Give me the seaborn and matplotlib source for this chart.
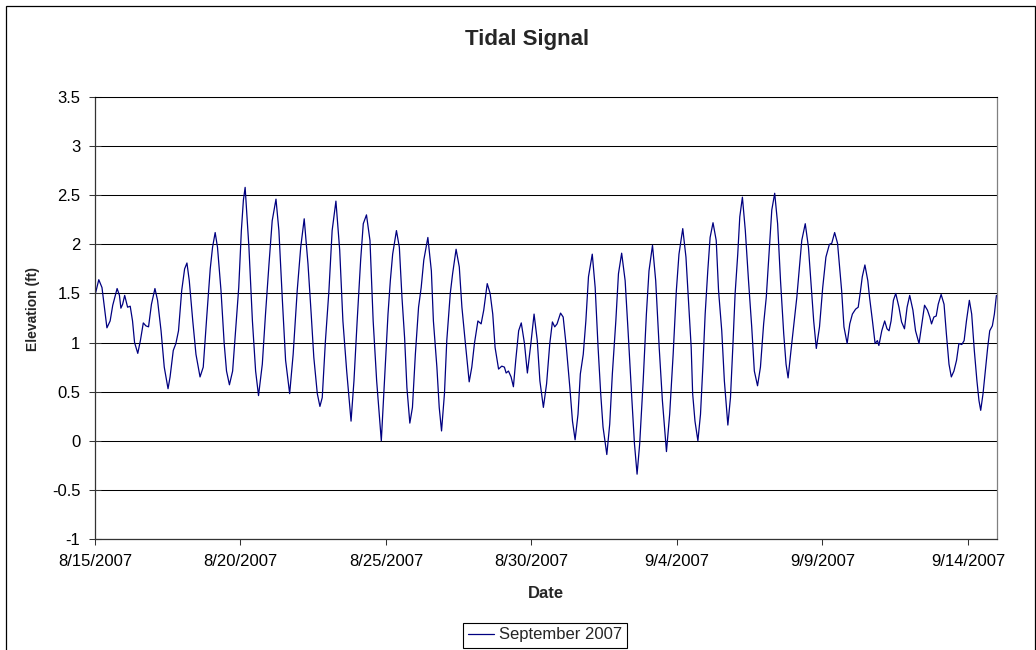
import matplotlib
matplotlib.use("Agg")
import numpy as np
import pandas as pd
import matplotlib.pyplot as plt
import matplotlib.dates as mdates
import matplotlib.ticker as mticker
from matplotlib.patches import Rectangle
import seaborn as sns

# ---------------- data ----------------
start_date = "2007-08-15"
end_date = "2007-09-15"
series_name = "September 2007"
chart_title = "Tidal Signal"
x_label = "Date"
y_label = "Elevation (ft)"
x_tick_dates = ["2007-08-15", "2007-08-20", "2007-08-25", "2007-08-30",
                "2007-09-04", "2007-09-09", "2007-09-14"]
y_ticks = [-1, -0.5, 0, 0.5, 1, 1.5, 2, 2.5, 3, 3.5]

# time since 8/15/2007 00:00 in days
days_aug15_20 = [0.00, 0.13, 0.24, 0.41, 0.52, 0.61, 0.76, 0.84, 0.89, 0.95,
                 1.02, 1.12, 1.21, 1.29, 1.36, 1.47, 1.56, 1.66, 1.75, 1.84,
                 1.94, 2.06, 2.15, 2.27, 2.38, 2.51, 2.58, 2.69, 2.78, 2.87,
                 2.98, 3.08, 3.16, 3.24, 3.36, 3.47, 3.61, 3.72, 3.84, 3.96,
                 4.04, 4.13, 4.21, 4.33, 4.44, 4.52, 4.62, 4.73, 4.84, 4.94,
                 5.03, 5.10]
elev_aug15_20 = [1.48, 1.64, 1.56, 1.15, 1.22, 1.38, 1.55, 1.48, 1.35, 1.39,
                 1.48, 1.36, 1.37, 1.22, 1.00, 0.89, 1.02, 1.20, 1.17, 1.16,
                 1.39, 1.55, 1.43, 1.12, 0.75, 0.53, 0.65, 0.92, 0.99, 1.12,
                 1.53, 1.75, 1.81, 1.63, 1.22, 0.88, 0.65, 0.75, 1.26, 1.75,
                 1.97, 2.12, 1.97, 1.53, 0.99, 0.71, 0.57, 0.71, 1.16, 1.56,
                 2.14, 2.45]

days_aug20_25 = [5.16, 5.29, 5.41, 5.52, 5.62, 5.75, 5.86, 5.98, 6.09, 6.22,
                 6.32, 6.44, 6.55, 6.69, 6.81, 6.95, 7.07, 7.19, 7.32, 7.43,
                 7.52, 7.64, 7.73, 7.81, 7.92, 8.04, 8.15, 8.28, 8.41, 8.52,
                 8.65, 8.80, 8.90, 9.01, 9.13, 9.22, 9.33, 9.45, 9.56, 9.68,
                 9.84, 9.95, 10.07]
elev_aug20_25 = [2.58, 1.97, 1.22, 0.71, 0.46, 0.78, 1.29, 1.80, 2.24, 2.46,
                 2.14, 1.43, 0.82, 0.48, 0.88, 1.53, 1.97, 2.26, 1.80, 1.29,
                 0.85, 0.48, 0.35, 0.44, 1.02, 1.53, 2.14, 2.44, 1.94, 1.22,
                 0.71, 0.20, 0.61, 1.22, 1.84, 2.21, 2.30, 2.04, 1.22, 0.61,
                 0.00, 0.61, 1.29]

days_aug25_30 = [10.15, 10.23, 10.36, 10.46, 10.55, 10.64, 10.72, 10.82, 10.91, 11.01,
                 11.12, 11.21, 11.30, 11.44, 11.56, 11.63, 11.75, 11.83, 11.91, 12.01,
                 12.09, 12.21, 12.29, 12.41, 12.52, 12.61, 12.72, 12.86, 12.95, 13.04,
                 13.16, 13.27, 13.36, 13.48, 13.58, 13.67, 13.75, 13.87, 13.98, 14.07,
                 14.13, 14.21, 14.30, 14.38, 14.46, 14.56, 14.65, 14.76, 14.86, 14.98,
                 15.09]
elev_aug25_30 = [1.63, 1.90, 2.14, 1.97, 1.46, 1.05, 0.54, 0.18, 0.34, 0.88,
                 1.36, 1.56, 1.84, 2.07, 1.73, 1.22, 0.75, 0.34, 0.10, 0.48,
                 1.02, 1.50, 1.70, 1.95, 1.77, 1.36, 1.02, 0.60, 0.75, 0.99,
                 1.22, 1.19, 1.33, 1.60, 1.50, 1.29, 0.95, 0.73, 0.76, 0.75,
                 0.69, 0.71, 0.65, 0.55, 0.82, 1.12, 1.20, 0.99, 0.69, 0.99,
                 1.29]

days_aug30_sep4 = [15.20, 15.29, 15.41, 15.52, 15.63, 15.72, 15.80, 15.88, 16.00, 16.09,
                   16.20, 16.32, 16.41, 16.50, 16.60, 16.68, 16.78, 16.87, 16.96, 17.09,
                   17.19, 17.29, 17.38, 17.46, 17.59, 17.69, 17.78, 17.90, 17.99, 18.10,
                   18.22, 18.32, 18.44, 18.54, 18.63, 18.72, 18.84, 18.95, 19.04, 19.16,
                   19.27, 19.39, 19.50, 19.64, 19.75, 19.87, 19.98, 20.07, 20.20]
elev_aug30_sep4 = [1.02, 0.61, 0.34, 0.58, 0.99, 1.21, 1.16, 1.19, 1.30, 1.26,
                   0.95, 0.54, 0.20, 0.01, 0.27, 0.68, 0.88, 1.22, 1.67, 1.90,
                   1.56, 0.95, 0.48, 0.14, -0.14, 0.17, 0.68, 1.22, 1.70, 1.91,
                   1.63, 1.12, 0.48, -0.03, -0.34, -0.03, 0.61, 1.29, 1.73, 1.99,
                   1.63, 0.95, 0.41, -0.11, 0.27, 0.88, 1.53, 1.90, 2.16]

days_sep4_9 = [20.31, 20.41, 20.49, 20.54, 20.62, 20.72, 20.81, 20.89, 20.97, 21.06,
               21.14, 21.24, 21.35, 21.43, 21.54, 21.63, 21.75, 21.84, 21.92, 22.00,
               22.09, 22.16, 22.25, 22.35, 22.46, 22.57, 22.66, 22.77, 22.87, 22.98,
               23.07, 23.18, 23.26, 23.36, 23.46, 23.56, 23.67, 23.75, 23.82, 23.92,
               24.01, 24.12, 24.21, 24.29, 24.41, 24.52, 24.61, 24.70, 24.79, 24.90,
               25.01, 25.12, 25.24, 25.32]
elev_sep4_9 = [1.87, 1.36, 0.95, 0.48, 0.20, 0.00, 0.27, 0.75, 1.29, 1.73,
               2.07, 2.22, 2.04, 1.53, 1.12, 0.61, 0.16, 0.44, 0.95, 1.50,
               1.90, 2.28, 2.48, 2.14, 1.63, 1.16, 0.71, 0.56, 0.75, 1.19,
               1.46, 1.97, 2.35, 2.52, 2.21, 1.63, 1.09, 0.78, 0.64, 0.92,
               1.16, 1.46, 1.77, 2.04, 2.21, 1.97, 1.60, 1.22, 0.94, 1.16,
               1.56, 1.87, 2.00, 2.01]

days_sep9_15 = [25.42, 25.52, 25.59, 25.66, 25.74, 25.85, 25.94, 26.03, 26.14, 26.23,
                26.31, 26.37, 26.46, 26.56, 26.62, 26.72, 26.81, 26.89, 26.94, 27.04,
                27.14, 27.22, 27.29, 27.36, 27.44, 27.52, 27.63, 27.72, 27.82, 27.91,
                28.00, 28.11, 28.20, 28.32, 28.43, 28.51, 28.61, 28.69, 28.75, 28.83,
                28.91, 28.98, 29.08, 29.18, 29.26, 29.35, 29.43, 29.52, 29.61, 29.69,
                29.79, 29.87, 29.95, 30.05, 30.13, 30.22, 30.31, 30.38, 30.44, 30.52,
                30.61, 30.68, 30.75, 30.84, 30.91, 30.98]
elev_sep9_15 = [2.12, 2.01, 1.77, 1.53, 1.16, 0.99, 1.19, 1.29, 1.34, 1.36,
                1.53, 1.67, 1.79, 1.63, 1.46, 1.22, 0.99, 1.02, 0.97, 1.12,
                1.22, 1.14, 1.12, 1.22, 1.43, 1.50, 1.36, 1.21, 1.14, 1.36,
                1.48, 1.33, 1.12, 0.99, 1.22, 1.38, 1.33, 1.26, 1.19, 1.26,
                1.27, 1.39, 1.49, 1.39, 1.09, 0.78, 0.65, 0.71, 0.82, 0.99,
                0.98, 1.02, 1.22, 1.43, 1.29, 0.92, 0.61, 0.41, 0.31, 0.48,
                0.75, 0.95, 1.12, 1.17, 1.29, 1.48]

day_offset = (days_aug15_20 + days_aug20_25 + days_aug25_30 +
              days_aug30_sep4 + days_sep4_9 + days_sep9_15)
elevation = (elev_aug15_20 + elev_aug20_25 + elev_aug25_30 +
             elev_aug30_sep4 + elev_sep4_9 + elev_sep9_15)

# ---------------- style ----------------
sns.set_style("white")
plt.rcParams["font.family"] = ["Liberation Sans", "DejaVu Sans"]

df = pd.DataFrame({
    "Date": pd.Timestamp(start_date) + pd.to_timedelta(day_offset, unit="D"),
    "Elevation": elevation,
    "Series": series_name,
})

W, H = 1036, 650
fig = plt.figure(figsize=(W / 100, H / 100), dpi=100)
fig.patch.set_facecolor("white")

left, right, top, bottom = 95, 997, 97, 539
ax = fig.add_axes([left / W, 1 - bottom / H, (right - left) / W, (bottom - top) / H])
ax.set_facecolor("white")

sns.lineplot(data=df, x="Date", y="Elevation", hue="Series",
             palette=["#000080"], linewidth=0.9, sort=False,
             estimator=None, ax=ax, legend=False)

ax.set_xlim(pd.Timestamp(start_date), pd.Timestamp(end_date))
ax.set_ylim(y_ticks[0], y_ticks[-1])
ax.set_yticks(y_ticks)
ax.yaxis.set_major_formatter(mticker.FuncFormatter(lambda v, p: f"{v:g}"))
ax.set_xticks(pd.to_datetime(x_tick_dates))


def _fmt_date(v, p):
    d = mdates.num2date(v)
    return f"{d.month}/{d.day}/{d.year}"


ax.xaxis.set_major_formatter(mticker.FuncFormatter(_fmt_date))
ax.set_xlabel("")
ax.set_ylabel("")

ax.yaxis.grid(True, color="black", linewidth=0.75)
ax.xaxis.grid(False)
ax.set_axisbelow(True)

ax.tick_params(axis="y", left=True, direction="inout", length=8, width=0.75,
               labelsize=12, pad=6.5, color="#333333", labelcolor="black")
ax.tick_params(axis="x", bottom=True, direction="out", length=4.5, width=0.75,
               labelsize=12, pad=6.5, color="#333333", labelcolor="black")

for side in ("left", "bottom"):
    ax.spines[side].set_color("#333333")
    ax.spines[side].set_linewidth(0.9)
ax.spines["top"].set_color("black")
ax.spines["top"].set_linewidth(0.75)
ax.spines["right"].set_color("#808080")
ax.spines["right"].set_linewidth(0.9)

# titles / labels
fig.text(527 / W, 1 - 40 / H, chart_title, ha="center", va="center",
         fontsize=16, fontweight="bold")
fig.text(546 / W, 1 - 593 / H, x_label, ha="center", va="center",
         fontsize=12, fontweight="bold")
fig.text(33 / W, 1 - 309 / H, y_label, ha="center", va="center",
         rotation=90, fontsize=10, fontweight="bold")

# legend
leg = fig.legend(handles=[ax.lines[0]], labels=[series_name], loc="center",
                 bbox_to_anchor=(545 / W, 1 - 635 / H), frameon=True,
                 fancybox=False, edgecolor="black", framealpha=1,
                 fontsize=12, handlelength=1.6, handletextpad=0.3,
                 borderpad=0.3, borderaxespad=0)
leg.get_frame().set_linewidth(0.8)

# chart-area border
fig.patches.append(Rectangle((6 / W, -0.05), (1035 - 6) / W, 1.05 - 6 / H,
                             transform=fig.transFigure, fill=False,
                             edgecolor="black", linewidth=0.9, clip_on=False))

fig.savefig("out.png", dpi=100, facecolor="white")
